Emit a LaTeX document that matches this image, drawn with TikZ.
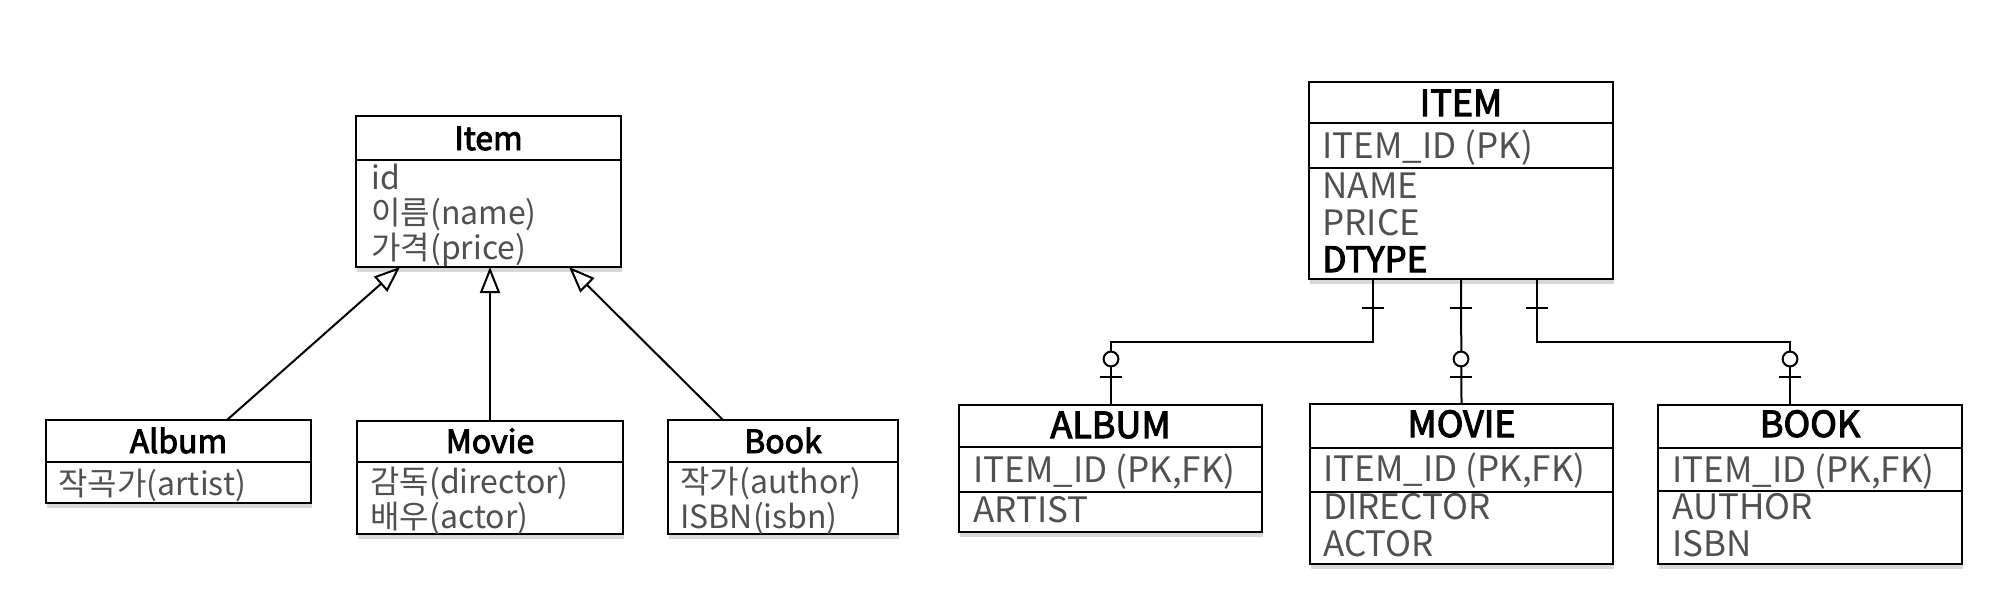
\documentclass[tikz,border=0pt]{standalone}
\usepackage{fontspec}
\setmainfont{Noto Sans CJK KR}
\newfontfamily\semibold[FakeBold=3]{Noto Sans CJK KR}
\usetikzlibrary{arrows.meta,fit,calc,shadows}
\definecolor{attrgray}{HTML}{505050}
\tikzset{
 box/.style={draw=black, line width=1.3pt, fill=white, inner sep=0pt, outer sep=0pt,
   drop shadow={opacity=0.3, shadow xshift=0.5pt, shadow yshift=-2.5pt}},
 div/.style={line width=1.2pt},
 ltitle/.style={anchor=base, font=\fontsize{16}{19}\semibold, inner sep=0pt},
 lattr/.style={anchor=base west, font=\fontsize{16}{19}\selectfont, text=attrgray, inner sep=0pt},
 etitle/.style={anchor=base, font=\fontsize{18}{21}\semibold, inner sep=0pt},
 eattr/.style={anchor=base west, font=\fontsize{17.5}{21}\selectfont, text=attrgray, inner sep=0pt},
 inh/.style={line width=1pt, -{Triangle[open, length=13pt, width=10pt, line width=1pt]}},
 rel/.style={line width=1pt},
}
\begin{document}
\begin{tikzpicture}[x=0.5pt,y=-0.5pt]
\fill[white] (0,0) rectangle (2000,599);
\useasboundingbox (0,0) rectangle (2000,599);
% ---------------- class diagram ----------------
\node[box, fit={(356,116)(621,267)}] (item) {};
\draw[div] (356,160) -- (621,160);
\node[ltitle] (itemT) at (item.north |- 0,150) {Item};
\node[lattr] (itemA1) at (371,189) {id};
\node[lattr] (itemA2) at (371,224) {이름(name)};
\node[lattr] (itemA3) at (371,259) {가격(price)};

\node[box, fit={(46,420)(311,503)}] (album) {};
\draw[div] (46,462) -- (311,462);
\node[ltitle] (albumT) at (album.north |- 0,453) {Album};
\node[lattr] (albumA1) at (58,495) {작곡가(artist)};

\node[box, fit={(357,421)(623,534)}] (movie) {};
\draw[div] (357,462) -- (623,462);
\node[ltitle] (movieT) at (movie.north |- 0,453) {Movie};
\node[lattr] (movieA1) at (370,493) {감독(director)};
\node[lattr] (movieA2) at (370,528) {배우(actor)};

\node[box, fit={(668,420)(898,534)}] (book) {};
\draw[div] (668,462) -- (898,462);
\node[ltitle] (bookT) at (book.north |- 0,453) {Book};
\node[lattr] (bookA1) at (680,493) {작가(author)};
\node[lattr] (bookA2) at (680,528) {ISBN(isbn)};

\draw[inh] ($(album.north west)+(181,0)$) -- ($(item.south west)+(44,0)$);
\draw[inh] (movie.north) -- (movie.north |- item.south);
\draw[inh] ($(book.north west)+(55,0)$) -- ($(item.south west)+(213,0)$);

% ---------------- ERD ----------------
\node[box, fit={(1309,82)(1613,279)}] (eitem) {};
\draw[div] (1309,123) -- (1613,123);
\draw[div] (1309,168) -- (1613,168);
\node[etitle] (eitemT) at (eitem.north |- 0,116) {ITEM};
\node[eattr] (eitemA1) at (1322,158) {ITEM\_ID (PK)};
\node[eattr] (eitemA2) at (1322,198) {NAME};
\node[eattr] (eitemA3) at (1322,235) {PRICE};
\node[eattr, text=black, font=\fontsize{17.5}{21}\semibold] (eitemA4) at (1322,272) {DTYPE};

\node[box, fit={(959,405)(1262,532)}] (ealbum) {};
\draw[div] (959,447) -- (1262,447);
\draw[div] (959,492) -- (1262,492);
\node[etitle] (ealbumT) at (ealbum.north |- 0,438) {ALBUM};
\node[eattr] (ealbumA1) at (973,482) {ITEM\_ID (PK,FK)};
\node[eattr] (ealbumA2) at (973,522) {ARTIST};

\node[box, fit={(1310,404)(1613,564)}] (emovie) {};
\draw[div] (1310,448) -- (1613,448);
\draw[div] (1310,492) -- (1613,492);
\node[etitle] (emovieT) at (emovie.north |- 0,437) {MOVIE};
\node[eattr] (emovieA1) at (1323,481) {ITEM\_ID (PK,FK)};
\node[eattr] (emovieA2) at (1323,519) {DIRECTOR};
\node[eattr] (emovieA3) at (1323,556) {ACTOR};

\node[box, fit={(1658,405)(1962,564)}] (ebook) {};
\draw[div] (1658,448) -- (1962,448);
\draw[div] (1658,491) -- (1962,491);
\node[etitle] (ebookT) at (ebook.north |- 0,437) {BOOK};
\node[eattr] (ebookA1) at (1672,482) {ITEM\_ID (PK,FK)};
\node[eattr] (ebookA2) at (1672,519) {AUTHOR};
\node[eattr] (ebookA3) at (1672,556) {ISBN};

% relations
\draw[rel] ($(eitem.south west)+(64,0)$) -- ++(0,63) -| (ealbum.north);
\draw[rel] (eitem.south) -- (emovie.north);
\draw[rel] ($(eitem.south west)+(228,0)$) -- ++(0,63) -| ($(ebook.north west)+(132,0)$);
% one-side bars
\draw[rel] (1362,308) -- (1384,308);
\draw[rel] (1450,308) -- (1472,308);
\draw[rel] (1526,308) -- (1548,308);
% zero-or-one markers
\draw[rel] (1100,377) -- (1122,377);
\draw[rel, fill=white] (1111,359) circle[radius=3.7pt];
\draw[rel] (1450,377) -- (1472,377);
\draw[rel, fill=white] (1461,359) circle[radius=3.7pt];
\draw[rel] (1779,377) -- (1801,377);
\draw[rel, fill=white] (1790,359) circle[radius=3.7pt];
\end{tikzpicture}
\end{document}
